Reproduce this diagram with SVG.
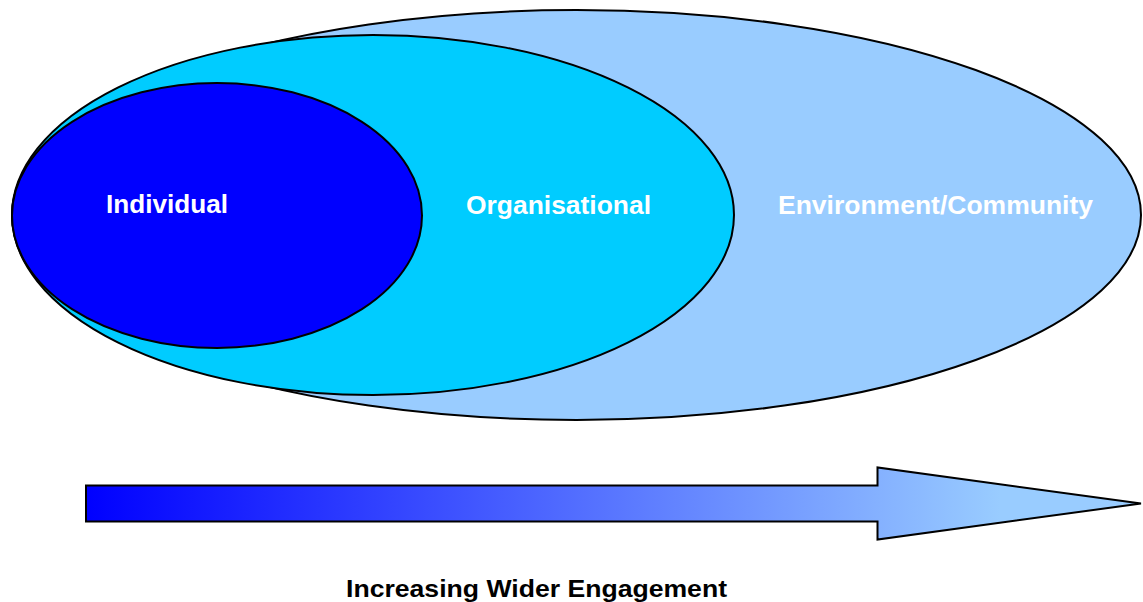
<svg xmlns="http://www.w3.org/2000/svg" width="1143" height="602" viewBox="0 0 1143 602">
<style>
.ell{stroke:#000;stroke-width:2}
.lbl{font-family:"Liberation Sans",Arial,sans-serif;font-weight:bold;font-size:25px;fill:#fff}
.cap{font-family:"Liberation Sans",Arial,sans-serif;font-weight:bold;font-size:24px;fill:#000}
</style>
<defs>
<linearGradient id="ag" gradientUnits="userSpaceOnUse" x1="86" y1="0" x2="1000" y2="0">
<stop offset="0" stop-color="#0000FF"/>
<stop offset="1" stop-color="#99CCFF"/>
</linearGradient>
</defs>
<rect width="1143" height="602" fill="#fff"/>
<g id="environment">
<ellipse class="ell" cx="576.5" cy="215" rx="564.5" ry="205" fill="#99CCFF"/>
<text class="lbl" x="778" y="214" textLength="315" lengthAdjust="spacingAndGlyphs">Environment/Community</text>
</g>
<g id="organisational">
<ellipse class="ell" cx="373" cy="215" rx="361" ry="180" fill="#00CCFF"/>
<text class="lbl" x="466" y="214" textLength="185" lengthAdjust="spacingAndGlyphs">Organisational</text>
</g>
<g id="individual">
<ellipse class="ell" cx="217" cy="215.5" rx="205" ry="132.5" fill="#0000FF"/>
<text class="lbl" x="106" y="213" textLength="122" lengthAdjust="spacingAndGlyphs">Individual</text>
</g>
<g id="arrow">
<polygon points="86,485.5 877.5,485.5 877.5,467.5 1141,503.5 877.5,539.5 877.5,521.5 86,521.5" fill="url(#ag)" stroke="#000" stroke-width="2"/>
</g>
<g id="caption">
<text class="cap" x="346" y="597" textLength="381" lengthAdjust="spacingAndGlyphs">Increasing Wider Engagement</text>
</g>
</svg>
